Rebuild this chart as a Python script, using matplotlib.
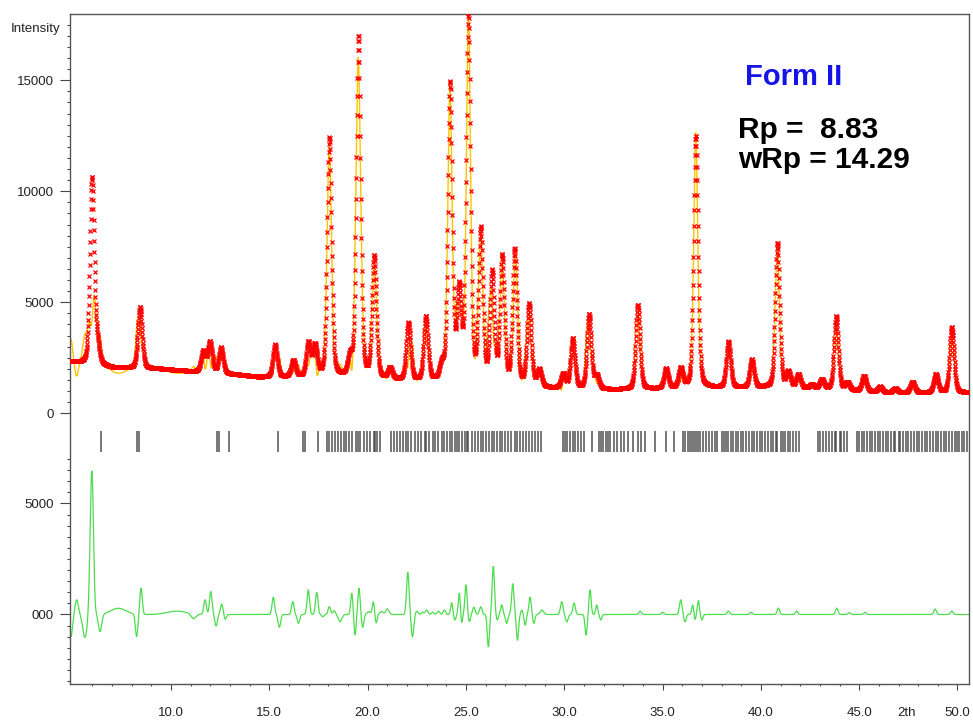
import numpy as np
import matplotlib
matplotlib.use("Agg")
import matplotlib.pyplot as plt

plt.rcParams['font.family'] = ['Liberation Sans', 'DejaVu Sans']

peak_pos = np.array([5.98, 6.25, 8.42, 11.64, 11.98, 12.54, 15.29, 16.22, 16.98, 17.32,
                     18.05, 19.10, 19.53, 20.33, 21.14, 22.07, 22.96, 23.77, 24.19, 24.65,
                     25.12, 25.75, 26.33, 26.84, 27.48, 28.21, 28.73, 29.95, 30.43, 31.26,
                     31.65, 33.74, 35.18, 35.92, 36.69, 38.35, 39.54, 40.84, 41.40, 41.91,
                     42.59, 43.10, 43.83, 44.40, 45.25, 46.06, 46.83, 47.71, 48.90, 49.71])
peak_top = np.array([10650, 3700, 4800, 2850, 3250, 2970, 3100, 2420, 3250, 3180,
                     12450, 2850, 17000, 7150, 2100, 4100, 4400, 2480, 14980, 5950,
                     18100, 8430, 6480, 7200, 7450, 4970, 2020, 1830, 3390, 4490,
                     1780, 4900, 2030, 2080, 12500, 3240, 2440, 7680, 1930, 1780,
                     1330, 1550, 4370, 1430, 1690, 1210, 1130, 1430, 1780, 3890])

# background level
bg_pos = [4.86, 7.0, 9.4, 11.1, 13.5, 14.5, 17.8, 20.8, 23.0, 28.0, 29.3, 32.5, 35.0, 38.0, 41.0, 44.0, 46.5, 50.6]
bg_int = [2300, 2050, 2000, 1880, 1720, 1620, 1620, 1500, 1400, 1250, 1120, 1060, 1100, 1150, 1150, 1050, 930, 930]

# difference curve features: position, amplitude, width
diff_pos = [4.90, 5.20, 5.62, 5.97, 6.12, 6.39, 7.32, 8.25, 8.47, 10.3, 11.14, 11.73, 12.02, 12.29,
            12.58, 12.75, 15.20, 15.51, 16.19, 16.48, 16.98, 17.41, 17.72, 18.05, 18.30, 18.60,
            19.19, 19.36, 19.56, 19.75, 20.05, 20.29, 20.43, 20.70, 21.00, 22.04, 22.28, 22.50,
            22.80, 23.00, 23.30, 23.60, 23.90, 24.27, 24.44, 24.66, 24.78, 25.00, 25.17, 25.40,
            25.75, 26.14, 26.39, 26.59, 26.82, 27.07, 27.38, 27.62, 27.84, 28.01, 28.26, 28.45,
            28.86, 29.87, 30.13, 30.50, 31.11, 31.31, 31.65, 31.86, 33.86, 35.00, 35.92, 36.14,
            36.53, 36.65, 36.82, 37.00, 38.35, 39.50, 40.89, 41.82, 43.86, 44.50, 45.30, 48.86, 49.71]
diff_amp = [-1010, 660, -1035, 6480, -250, -780, 280, -1010, 1190, 150, -220, 660, 1035, -520,
            475, -220, 780, -580, 580, -400, 1110, 990, -100, 355, 170, -330,
            960, -930, 1190, -580, 130, 580, -400, 130, 250, 1900, -1010, 150,
            100, 200, 100, 150, 200, 535, -250, 960, -400, 1340, -330, 330,
            355, -1460, 2170, -250, 430, -400, 1385, -1160, 200, -480, 780, -400,
            200, 580, -330, 510, -930, 1110, 430, -250, 150, 100, 660, -330,
            430, -250, 630, -250, 150, 100, 290, 150, 290, 80, 100, 250, 150]
diff_fw = [0.2, 0.2, 0.25, 0.2, 0.1, 0.2, 0.9, 0.15, 0.15, 1.2, 0.3, 0.15, 0.15, 0.15,
           0.15, 0.15, 0.15, 0.15, 0.15, 0.15, 0.15, 0.15, 0.15, 0.15, 0.15, 0.2,
           0.13, 0.12, 0.13, 0.13, 0.2, 0.13, 0.12, 0.2, 0.2, 0.15, 0.15, 0.15,
           0.15, 0.15, 0.15, 0.15, 0.15, 0.12, 0.12, 0.12, 0.1, 0.13, 0.12, 0.15,
           0.15, 0.13, 0.14, 0.12, 0.13, 0.13, 0.14, 0.13, 0.12, 0.12, 0.14, 0.13,
           0.2, 0.15, 0.15, 0.15, 0.13, 0.13, 0.12, 0.12, 0.15, 0.15, 0.15, 0.13,
           0.12, 0.1, 0.12, 0.12, 0.15, 0.15, 0.15, 0.15, 0.15, 0.15, 0.15, 0.15, 0.15]

# reflection positions
refl = [6.44, 8.25, 8.36, 12.34, 12.44, 12.95, 15.44, 16.71, 16.82, 17.48,
        17.95, 18.05, 18.2, 18.35, 18.5, 18.62, 18.8, 18.92, 19.05, 19.2, 19.4, 19.53, 19.6, 19.8,
        19.95, 20.12, 20.3, 20.35, 20.5, 20.65, 21.2, 21.32, 21.5, 21.62, 21.8, 21.95, 22.07, 22.2,
        22.4, 22.55, 22.7, 22.9, 22.96, 23.1, 23.3, 23.45, 23.6, 23.77, 23.9, 24.05, 24.19, 24.3,
        24.45, 24.55, 24.65, 24.8, 24.95, 25.05, 25.12, 25.3, 25.45, 25.6, 25.75, 25.85, 26.0,
        26.15, 26.33, 26.45, 26.6, 26.75, 26.84, 27.0, 27.15, 27.3, 27.48, 27.6, 27.75, 27.9,
        28.05, 28.21, 28.35, 28.5, 28.65, 28.8,
        29.95, 30.05, 30.15, 30.3, 30.43, 30.55, 30.7, 30.85, 31.0, 31.4, 31.77, 31.85, 31.95,
        32.1, 32.2, 32.35, 32.55, 32.7, 32.9, 33.05, 33.25, 33.5, 33.74, 33.9, 34.1, 34.6, 35.18,
        35.6, 36.05, 36.15, 36.3, 36.4, 36.5, 36.6, 36.69, 36.8, 36.9, 37.05, 37.2, 37.35, 37.5,
        37.65, 37.77, 38.0, 38.1, 38.25, 38.35, 38.5, 38.6, 38.75, 38.85, 39.0, 39.1, 39.25,
        39.4, 39.54, 39.65, 39.8, 39.95, 40.05, 40.2, 40.35, 40.5, 40.6, 40.75, 40.84, 41.0,
        41.1, 41.25, 41.4, 41.5, 41.65, 41.8, 41.95, 42.9, 43.0, 43.15, 43.3, 43.45, 43.6,
        43.75, 43.83, 44.0, 44.1, 44.25, 44.4, 44.9, 45.0, 45.15, 45.25, 45.4, 45.55, 45.65,
        45.8, 45.95, 46.06, 46.2, 46.35, 46.45, 46.6, 46.75, 46.83, 47.0, 47.1, 47.25, 47.4,
        47.5, 47.65, 47.8, 47.95, 48.05, 48.2, 48.35, 48.45, 48.6, 48.75, 48.9, 49.0, 49.15,
        49.3, 49.4, 49.55, 49.7, 49.85, 49.95, 50.1, 50.25, 50.35, 50.5]

diff_zero = -9063   # where the difference curve sits on the intensity axis
width = 0.26
eta = 0.3


def pv(x, c, w):
    d = (x - c) / w
    return eta / (1 + 4 * d ** 2) + (1 - eta) * np.exp(-4 * np.log(2) * d ** 2)


tth = np.arange(4.86, 50.58, 0.012)
bg = np.interp(tth, bg_pos, bg_int)
A = pv(peak_pos[:, None], peak_pos[None, :], width)
amp = np.linalg.solve(A, peak_top - np.interp(peak_pos, bg_pos, bg_int))
obs = bg + pv(tth[:, None], peak_pos[None, :], width) @ amp

dp = np.array(diff_pos)
diff = (np.array(diff_amp)[None, :] *
        np.exp(-4 * np.log(2) * ((tth[:, None] - dp[None, :]) / np.array(diff_fw)[None, :]) ** 2)).sum(axis=1)
calc = obs - diff

fig = plt.figure(figsize=(9.73, 7.23), dpi=100)
ax = fig.add_axes([70 / 973, 1 - 684.3 / 723, 898.5 / 973, 670 / 723])

ax.plot(tth, calc, color='#FFC400', lw=1.0, zorder=2)
ax.plot(tth, obs, ls='none', marker='x', ms=3.0, mew=0.9, color='#FF0000', zorder=3)
ax.plot(tth, diff + diff_zero, color='#4CDD4C', lw=0.9, zorder=2)
ax.vlines(refl, -1750, -800, color='#444444', lw=1.2, alpha=0.85)

ax.set_xlim(4.86, 50.56)
ax.set_ylim(-12207, 17970)

ax.set_xticks(np.arange(10, 51, 5))
ax.set_xticklabels(['%.1f' % v for v in np.arange(10, 51, 5)])
ax.set_xticks(np.arange(6, 51, 1), minor=True)

yt = [0, 5000, 10000, 15000, diff_zero, diff_zero + 5000]
ax.set_yticks(yt)
ax.set_yticklabels(['0', '5000', '10000', '15000', '000', '5000'])
ax.set_yticks(list(np.arange(0, 18000, 500)) + list(diff_zero + np.arange(-3000, 7001, 500)), minor=True)

ax.tick_params(axis='y', which='major', direction='out', length=7.5, width=0.8,
               colors='#444444', labelsize=9.5, pad=4, labelcolor='#222222')
ax.tick_params(axis='y', which='minor', direction='out', length=2.5, width=0.8, colors='#444444')
ax.tick_params(axis='x', which='major', direction='out', length=4.3, width=0.8,
               colors='#444444', labelsize=9.5, pad=12, labelcolor='#222222')
ax.tick_params(axis='x', which='minor', direction='out', length=1.6, width=0.8, colors='#444444')
for s in ax.spines.values():
    s.set_color('#555555')
    s.set_linewidth(1.0)

fig.text(60 / 973, 1 - 29.3 / 723, 'Intensity', ha='right', va='center', fontsize=9.5, color='#222222')
fig.text(907 / 973, 1 - 713 / 723, '2th', ha='center', va='center', fontsize=9.5, color='#222222')

fig.text(745 / 973, 1 - 85 / 723, 'Form II', ha='left', va='baseline', fontsize=21,
         fontweight='bold', color='#1414E6')
fig.text(738 / 973, 1 - 137.7 / 723, 'Rp =  8.83', ha='left', va='baseline', fontsize=21.5,
         fontweight='bold', color='black')
fig.text(738 / 973, 1 - 167.7 / 723, 'wRp = 14.29', ha='left', va='baseline', fontsize=21.5,
         fontweight='bold', color='black')

fig.savefig('out.png', dpi=100)
